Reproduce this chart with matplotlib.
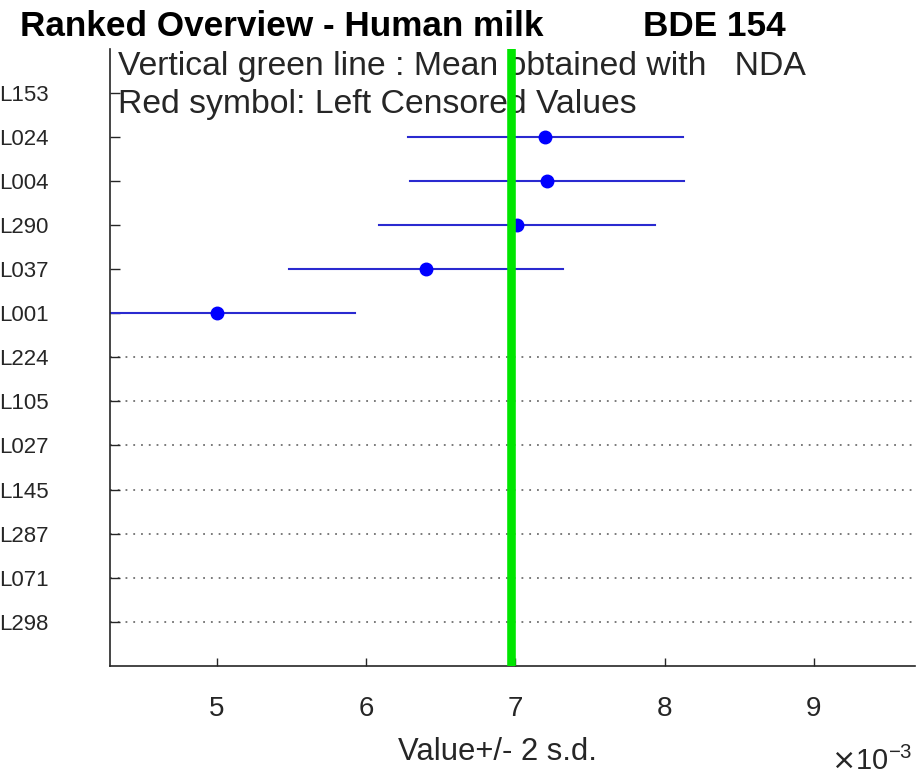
import matplotlib
matplotlib.use("Agg")
import matplotlib.pyplot as plt
from matplotlib.ticker import FuncFormatter
import numpy as np

plt.rcParams['font.family'] = ['Liberation Sans', 'DejaVu Sans']

# ---- data (top to bottom) ----
labs = ['L153', 'L024', 'L004', 'L290', 'L037', 'L001', 'L224', 'L105',
        'L027', 'L145', 'L287', 'L071', 'L298']
# labs with a reported value
val_labs = ['L024', 'L004', 'L290', 'L037', 'L001']
values = [0.00720, 0.00721, 0.00701, 0.00640, 0.00500]
two_sd = [0.00092, 0.00092, 0.000925, 0.00092, 0.000925]
# labs without a value (dotted line)
empty_labs = ['L224', 'L105', 'L027', 'L145', 'L287', 'L071', 'L298']
mean_nda = 0.00697
xlim = (0.004283, 0.009677)

W, H = 918, 775
fig = plt.figure(figsize=(W / 100, H / 100), dpi=100)
ax = fig.add_axes([110 / W, (H - 665.7) / H, 805 / W, (665.7 - 49) / H])

n = len(labs)
ypos = {lab: n - i for i, lab in enumerate(labs)}

for lab in empty_labs:
    ax.plot(xlim, [ypos[lab]] * 2, color='#707070', lw=1.3,
            linestyle=(0, (1, 3.3)), zorder=1)

for lab, v, e in zip(val_labs, values, two_sd):
    y = ypos[lab]
    ax.plot([v - e, v + e], [y, y], color='#2a2ad0', lw=1.5, zorder=2)
    ax.plot(v, y, 'o', color='blue', ms=9, zorder=3)

ax.axvline(mean_nda, color='#00e600', lw=6.2, zorder=6)

ax.set_xlim(*xlim)
ax.set_ylim(0, n + 1)
ax.set_yticks([ypos[l] for l in labs])
ax.set_yticklabels(labs, fontsize=16)
ax.set_xticks([0.005, 0.006, 0.007, 0.008, 0.009])
ax.xaxis.set_major_formatter(FuncFormatter(lambda x, p: f"{x * 1000:.0f}"))
ax.tick_params(axis='x', direction='in', length=6, width=1, labelsize=20, pad=22,
               colors='#262626')
ax.tick_params(axis='y', direction='in', length=7, width=1, pad=44, colors='#262626')
for t in ax.get_xticklabels() + ax.get_yticklabels():
    t.set_color('#262626')

for s in ['top', 'right']:
    ax.spines[s].set_visible(False)
for s in ['left', 'bottom']:
    ax.spines[s].set_color('#262626')
    ax.spines[s].set_linewidth(1.2)

ax.set_xlabel('Value+/- 2 s.d.', fontsize=22.3, color='#262626')
ax.xaxis.set_label_coords((497 - 110) / 805, -(752 - 665.7) / (665.7 - 49))
ax.xaxis.label.set_verticalalignment('center')

ax.text(912 / W, 1 - 770 / H, r'$\times$10$^{\mathdefault{-3}}$', transform=fig.transFigure,
        ha='right', va='baseline', fontsize=21, color='#262626')

fig.text(20 / W, 1 - 27 / H, 'Ranked Overview - Human milk', fontsize=25.3,
         fontweight='bold', ha='left', va='center', color='black')
fig.text(643 / W, 1 - 27 / H, 'BDE 154', fontsize=25.3,
         fontweight='bold', ha='left', va='center', color='black')

ax.text(118 / W, 1 - 75 / H, 'Vertical green line : Mean obtained with   NDA',
        transform=fig.transFigure, fontsize=24.3, ha='left', va='baseline',
        color='#262626', zorder=4)
ax.text(118 / W, 1 - 113 / H, 'Red symbol: Left Censored Values',
        transform=fig.transFigure, fontsize=24.3, ha='left', va='baseline',
        color='#262626', zorder=4)

fig.savefig('out.png', dpi=100)
